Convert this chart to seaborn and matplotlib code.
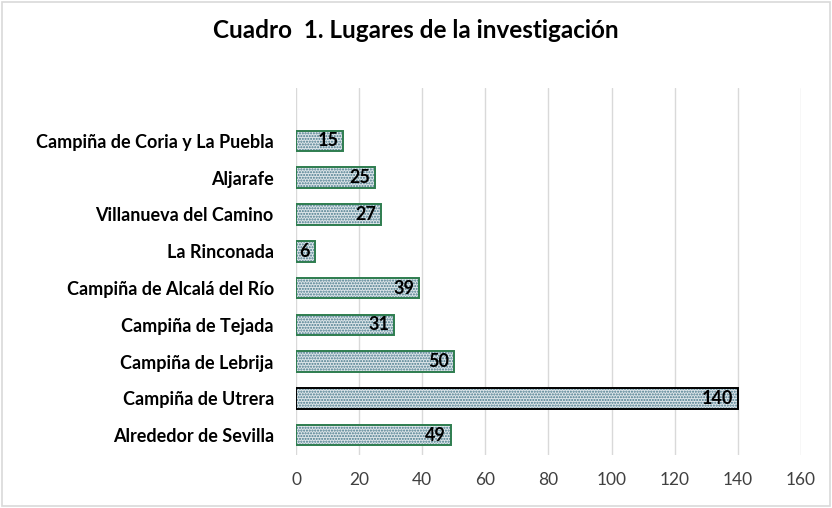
import matplotlib.pyplot as plt
import pandas as pd
import seaborn as sns

# data, top to bottom as in the chart
lugares = ["Campiña de Coria y La Puebla", "Aljarafe", "Villanueva del Camino",
           "La Rinconada", "Campiña de Alcalá del Río", "Campiña de Tejada",
           "Campiña de Lebrija", "Campiña de Utrera", "Alrededor de Sevilla"]
valores = [15, 25, 27, 6, 39, 31, 50, 140, 49]
xticks = [0, 20, 40, 60, 80, 100, 120, 140, 160]

df = pd.DataFrame({"Lugar": lugares, "N": valores})

sns.set_style("white")
plt.rcParams["font.family"] = ["Lato", "DejaVu Sans"]

fig = plt.figure(figsize=(8.32, 5.08), dpi=100)
ax = fig.add_axes([0.3558, 0.1043, 0.6069, 0.7225])

# hatched fill first (edgecolor drives hatch colour)
sns.barplot(data=df, x="N", y="Lugar", orient="h", width=0.56,
            color="#dbe6eb", edgecolor="#46788a", linewidth=0, ax=ax)
for p in ax.patches:
    p.set_hatch("......")

# outline on top
edge_cols = ["#2e7d4f"] * len(valores)
edge_cols[lugares.index("Campiña de Utrera")] = "black"
for p, ec in zip(list(ax.patches), edge_cols):
    ax.add_patch(plt.Rectangle(p.get_xy(), p.get_width(), p.get_height(),
                               fill=False, edgecolor=ec, linewidth=1.4, zorder=3))

# data labels, inside end
for i, v in enumerate(valores):
    ax.text(v - 1.5, i, str(v), ha="right", va="center", fontsize=13,
            fontweight="bold", color="black", zorder=4)

ax.set_xlim(0, 160)
ax.set_ylim(8.54, -1.44)
ax.set_xticks(xticks)
ax.xaxis.grid(True, color="#d9d9d9", linewidth=1)
ax.set_axisbelow(True)
for s in ax.spines.values():
    s.set_visible(False)
ax.tick_params(axis="x", length=0, labelsize=12.5, labelcolor="#404040", pad=12)
ax.tick_params(axis="y", length=0, pad=16)
for t in ax.get_yticklabels():
    t.set_fontweight("bold")
    t.set_fontsize(13)
    t.set_color("black")
ax.set_xlabel("")
ax.set_ylabel("")

fig.text(0.5, 0.94, "Cuadro  1. Lugares de la investigación", ha="center",
         va="center", fontsize=17.5, fontweight="bold", color="black")

# outer chart border
fig.patches.append(plt.Rectangle((0.003, 0.003), 0.994, 0.994, transform=fig.transFigure,
                                 fill=False, edgecolor="#d9d9d9", linewidth=1.2))

fig.savefig("out.png", dpi=100)
